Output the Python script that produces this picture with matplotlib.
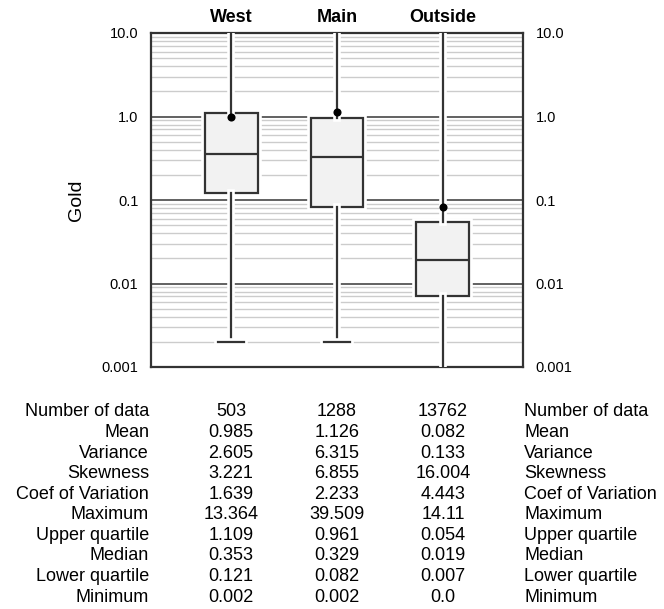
import matplotlib.pyplot as plt
import matplotlib.patheffects as pe
from matplotlib.ticker import FixedLocator, FixedFormatter, LogLocator, NullFormatter
from matplotlib.transforms import blended_transform_factory

plt.rcParams['font.family'] = ['Liberation Sans', 'DejaVu Sans']

groups = ['West', 'Main', 'Outside']
n_data = ['503', '1288', '13762']
mean = [0.985, 1.126, 0.082]
variance = [2.605, 6.315, 0.133]
skewness = [3.221, 6.855, 16.004]
coef_var = [1.639, 2.233, 4.443]
maximum = [13.364, 39.509, 14.11]
upper_q = [1.109, 0.961, 0.054]
median = [0.353, 0.329, 0.019]
lower_q = [0.121, 0.082, 0.007]
minimum = [0.002, 0.002, 0.0]

ytick_vals = [0.001, 0.01, 0.1, 1.0, 10.0]
ytick_labels = ['0.001', '0.01', '0.1', '1.0', '10.0']

row_names = ['Number of data', 'Mean', 'Variance', 'Skewness', 'Coef of Variation',
             'Maximum', 'Upper quartile', 'Median', 'Lower quartile', 'Minimum']
rows = [n_data, mean, variance, skewness, coef_var, maximum, upper_q, median, lower_q, minimum]

fig = plt.figure(figsize=(6.64, 6.09), dpi=100)
ax = fig.add_axes([151/664, 1 - 367/609, 372/664, 334/609])

dark = '#333333'
halo = [pe.Stroke(linewidth=5.5, foreground='white'), pe.Normal()]
positions = [1, 2, 3]

stats = []
for i, g in enumerate(groups):
    # log axis cannot show 0, so a tiny value stands in (it is clipped anyway)
    stats.append(dict(label=g, med=median[i], q1=lower_q[i], q3=upper_q[i],
                      whislo=max(minimum[i], 1e-6), whishi=maximum[i], fliers=[]))

art = ax.bxp(stats, positions=positions, widths=0.5, patch_artist=True,
             showfliers=False, capwidths=0.25,
             boxprops=dict(facecolor='#f2f2f2', edgecolor=dark, linewidth=1.6),
             medianprops=dict(color=dark, linewidth=1.6),
             whiskerprops=dict(color=dark, linewidth=1.6),
             capprops=dict(color=dark, linewidth=1.6))
for key in ['boxes', 'whiskers', 'caps']:
    for a in art[key]:
        a.set_path_effects(halo)
        a.set_zorder(3)
for a in art['medians']:
    a.set_zorder(4)

ax.scatter(positions, mean, s=34, color='black', zorder=5, linewidths=0)

ax.set_yscale('log')
ax.set_ylim(0.001, 10)
ax.set_xlim(0.245, 3.755)
ax.yaxis.set_major_locator(FixedLocator(ytick_vals))
ax.yaxis.set_major_formatter(FixedFormatter(ytick_labels))
ax.yaxis.set_minor_locator(LogLocator(base=10, subs=range(2, 10)))
ax.yaxis.set_minor_formatter(NullFormatter())
ax.grid(True, which='major', axis='y', color='#555555', linewidth=1.3, zorder=0)
ax.grid(True, which='minor', axis='y', color='#cccccc', linewidth=1.0, zorder=0)
ax.set_axisbelow(True)
ax.tick_params(axis='y', which='both', length=0, labelsize=10.5, pad=9,
               left=True, right=True, labelleft=True, labelright=True)
ax.tick_params(axis='x', bottom=False, labelbottom=False)
for s in ax.spines.values():
    s.set_linewidth(1.6)
    s.set_color(dark)
ax.set_ylabel('Gold', fontsize=14, labelpad=12)

# group names above the boxes
top = blended_transform_factory(ax.transData, fig.transFigure)
for p, g in zip(positions, groups):
    ax.text(p, 1 - 17/609, g, transform=top, ha='center', va='center',
            fontsize=13, fontweight='bold')

# statistics table under the plot
left_x = 149/664
right_x = 524/664
for r, (name, vals) in enumerate(zip(row_names, rows)):
    y = 1 - (412 + r * 20.56) / 609
    fig.text(left_x, y, name, ha='right', va='center', fontsize=13)
    fig.text(right_x, y, name, ha='left', va='center', fontsize=13)
    for p, v in zip(positions, vals):
        ax.text(p, y, str(v), transform=top, ha='center', va='center', fontsize=13)

fig.savefig('out.png', dpi=100)
